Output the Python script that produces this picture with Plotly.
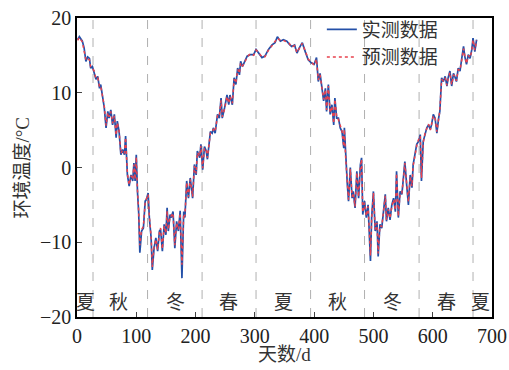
import plotly.graph_objects as go

days = [1,4,9,12,15,18,21,23,26,29,32,35,38,40,43,46,49,52,54,57,60,63,66,68,71,74,77,80,82,85,
        88,91,94,96,98,100,102,104,106,109,112,115,117,120,122,125,127,130,133,136,139,141,144,147,150,152,154,157,159,162,
        165,168,171,174,177,180,182,185,188,191,195,198,201,203,207,209,212,215,218,220,225,228,230,233,237,240,243,245,249,253,
        256,258,262,265,268,271,274,276,279,282,287,292,298,302,306,312,317,323,329,334,338,343,348,354,358,362,367,371,375,380,
        385,390,395,400,404,407,410,413,416,419,421,424,427,430,433,435,438,441,444,447,450,451,453,456,458,461,464,466,469,472,
        475,478,480,482,485,488,491,493,495,497,500,503,506,508,511,514,517,520,522,525,528,531,534,537,539,542,545,548,551,553,
        556,559,562,565,567,570,573,576,579,581,584,587,590,593,596,598,601,604,607,610,612,615,618,621,624,626,629,632,635,638,
        640,643,646,649,652,654,657,660,663,666,668,671,674]

measured = [17.1,17.5,16.9,16.0,14.2,14.8,14.6,13.3,13.5,12.8,11.8,12.2,10.6,11.1,9.5,8.0,5.3,7.5,6.6,7.7,5.7,7.1,4.0,6.2,4.8,1.7,2.4,1.7,4.2,-1.0,
            -2.5,-1.0,-1.8,0.6,-1.8,1.7,-3.2,-6.0,-11.4,-8.5,-8.1,-4.5,-4.3,-3.4,-6.7,-9.4,-13.7,-10.8,-9.4,-11.2,-8.5,-8.3,-11.2,-7.6,-9.0,-5.4,-8.5,-6.3,-6.7,-5.9,
            -10.8,-7.2,-8.5,-5.8,-14.8,-5.9,-6.7,-1.8,-4.1,-1.4,-4.1,0.4,-1.0,2.2,1.3,3.1,-0.3,2.8,2.2,1.1,4.8,4.6,5.3,4.6,7.1,6.6,9.3,6.6,8.0,9.7,
            8.4,9.7,8.4,12.0,11.1,13.3,12.4,14.2,13.5,14.0,14.9,15.1,15.1,15.8,15.3,14.7,14.9,15.8,16.4,16.7,17.5,16.9,17.1,16.9,16.5,16.2,16.4,15.3,16.0,16.7,
            15.5,14.4,14.0,13.8,14.7,11.5,12.6,10.4,8.9,10.6,7.5,11.1,7.1,8.4,5.7,9.3,6.6,6.6,5.3,4.8,2.6,5.3,1.3,-2.3,-4.5,0.0,-4.1,-3.2,-5.4,-0.5,
            -4.1,0.4,1.3,-6.3,-4.5,-6.7,-5.0,-8.5,-12.5,-6.7,-3.2,-8.5,-7.2,-11.9,-7.6,-8.1,-5.9,-3.6,-7.2,-5.4,-7.0,-5.0,-4.1,-5.9,-0.5,-6.7,-3.2,-3.6,-1.0,0.8,
            -2.3,-5.0,-1.0,-2.7,0.4,1.7,3.1,3.5,4.4,-1.8,3.5,4.4,5.3,5.7,5.1,5.7,7.1,6.6,4.6,6.6,7.5,12.0,11.5,12.2,10.9,12.0,12.9,10.9,12.6,12.0,
            11.5,13.3,12.9,14.6,16.2,14.9,13.8,15.1,14.6,15.8,17.3,15.5,17.1]

predicted = [17.0,17.4,16.8,15.8,14.4,14.6,14.4,13.5,13.3,12.9,11.9,12.0,10.8,10.9,9.6,8.2,5.6,7.3,6.8,7.5,5.9,6.9,4.3,6.0,4.9,1.9,2.3,1.9,4.0,-0.8,
             -2.3,-1.1,-1.6,0.4,-1.6,1.4,-3.0,-5.8,-10.4,-8.3,-7.9,-4.7,-4.2,-3.6,-6.5,-9.2,-13.3,-10.6,-9.6,-11.0,-8.7,-8.1,-10.9,-7.8,-8.8,-5.8,-8.3,-6.5,-6.5,-6.1,
             -10.4,-7.4,-8.3,-6.1,-13.0,-6.2,-6.5,-2.0,-3.9,-1.6,-3.9,0.2,-0.8,2.0,1.5,2.9,-0.1,2.6,2.3,1.3,4.6,4.7,5.1,4.8,6.9,6.8,9.0,6.8,7.8,9.5,
             8.6,9.5,8.6,11.8,11.3,13.1,12.6,14.0,13.6,13.9,14.8,15.2,15.0,15.7,15.4,14.8,14.8,15.7,16.3,16.8,17.3,17.0,17.0,16.8,16.6,16.1,16.3,15.4,15.9,16.6,
             15.6,14.5,14.1,13.7,14.5,11.7,12.4,10.6,9.1,10.4,7.7,10.9,7.3,8.2,5.9,9.1,6.8,6.4,5.5,4.9,2.8,5.1,1.5,-2.1,-4.3,-0.2,-3.9,-3.4,-5.2,-0.7,
             -3.9,0.2,1.1,-6.0,-4.7,-6.5,-5.2,-8.3,-11.8,-6.9,-3.4,-8.3,-7.4,-11.5,-7.8,-7.9,-6.1,-3.8,-7.0,-5.6,-6.8,-5.2,-4.3,-5.7,-0.8,-6.5,-3.4,-3.4,-1.2,0.6,
             -2.1,-4.6,-1.2,-2.5,0.2,1.9,2.9,3.7,4.2,-1.4,3.3,4.6,5.1,5.8,5.0,5.8,6.9,6.7,4.8,6.5,7.6,11.8,11.6,12.0,11.0,11.9,12.7,11.1,12.4,12.1,
             11.6,13.1,13.0,14.4,15.9,15.0,13.9,15.0,14.7,15.6,17.1,15.7,17.0]

season_boundaries = [27, 119, 211, 302, 394, 485, 577, 668]
season_labels = ["夏", "秋", "冬", "春", "夏", "秋", "冬", "春", "夏"]
season_label_x = [14, 70, 166, 255, 348, 440, 533, 623, 680]
season_label_y = -18

x_ticks = [0, 100, 200, 300, 400, 500, 600, 700]
y_ticks = [-20, -10, 0, 10, 20]

FONT = "Liberation Serif, 'Noto Sans CJK SC', serif"

fig = go.Figure()
fig.add_trace(go.Scatter(x=days, y=measured, mode="lines", name="实测数据",
                         line=dict(color="#2450a8", width=1.7)))
fig.add_trace(go.Scatter(x=days, y=predicted, mode="lines", name="预测数据",
                         line=dict(color="#e8424e", width=1.5, dash="dot")))

for b in season_boundaries:
    fig.add_shape(type="line", x0=b, x1=b, y0=0, y1=1, xref="x", yref="paper",
                  line=dict(color="#b0b0b0", width=1, dash="dash"), layer="below")

for lx, lab in zip(season_label_x, season_labels):
    fig.add_annotation(x=lx, y=season_label_y, text=lab, showarrow=False,
                       font=dict(size=19, color="#333333", family=FONT))

# axis titles
fig.add_annotation(x=0.5, y=-0.127, xref="paper", yref="paper", text="天数/d",
                   showarrow=False, yanchor="middle", font=dict(size=19, color="#333333", family=FONT))
fig.add_annotation(x=-0.1325, y=0.5, xref="paper", yref="paper", text="环境温度/°C",
                   textangle=-90, showarrow=False, xanchor="center", yanchor="middle",
                   font=dict(size=19, color="#333333", family=FONT))

fig.update_layout(
    width=509, height=370,
    margin=dict(l=77, r=17, t=18, b=53, autoexpand=False),
    plot_bgcolor="white", paper_bgcolor="white",
    font=dict(family=FONT, size=20, color="#222222"),
    showlegend=True,
    legend=dict(x=0.59, y=1.025, xanchor="left", yanchor="top",
                bgcolor="rgba(0,0,0,0)", font=dict(size=19, color="#333333"),
                tracegroupgap=0, itemwidth=30),
    xaxis=dict(range=[0, 700], tickvals=x_ticks, ticks="inside", ticklen=5,
               showline=True, linecolor="black", linewidth=1.5, mirror=True,
               showgrid=False, zeroline=False, automargin=False,
               ticklabeloverflow="allow", tickfont=dict(size=20)),
    yaxis=dict(range=[-20, 20], tickvals=y_ticks, ticks="inside", ticklen=5,
               showline=True, linecolor="black", linewidth=1.5, mirror=True,
               showgrid=False, zeroline=False, automargin=False,
               ticklabeloverflow="allow", tickfont=dict(size=20)),
)

fig.write_html("out.html", config={"displayModeBar": False},
               post_script="document.body.style.margin='0';document.body.style.overflow='hidden';")
